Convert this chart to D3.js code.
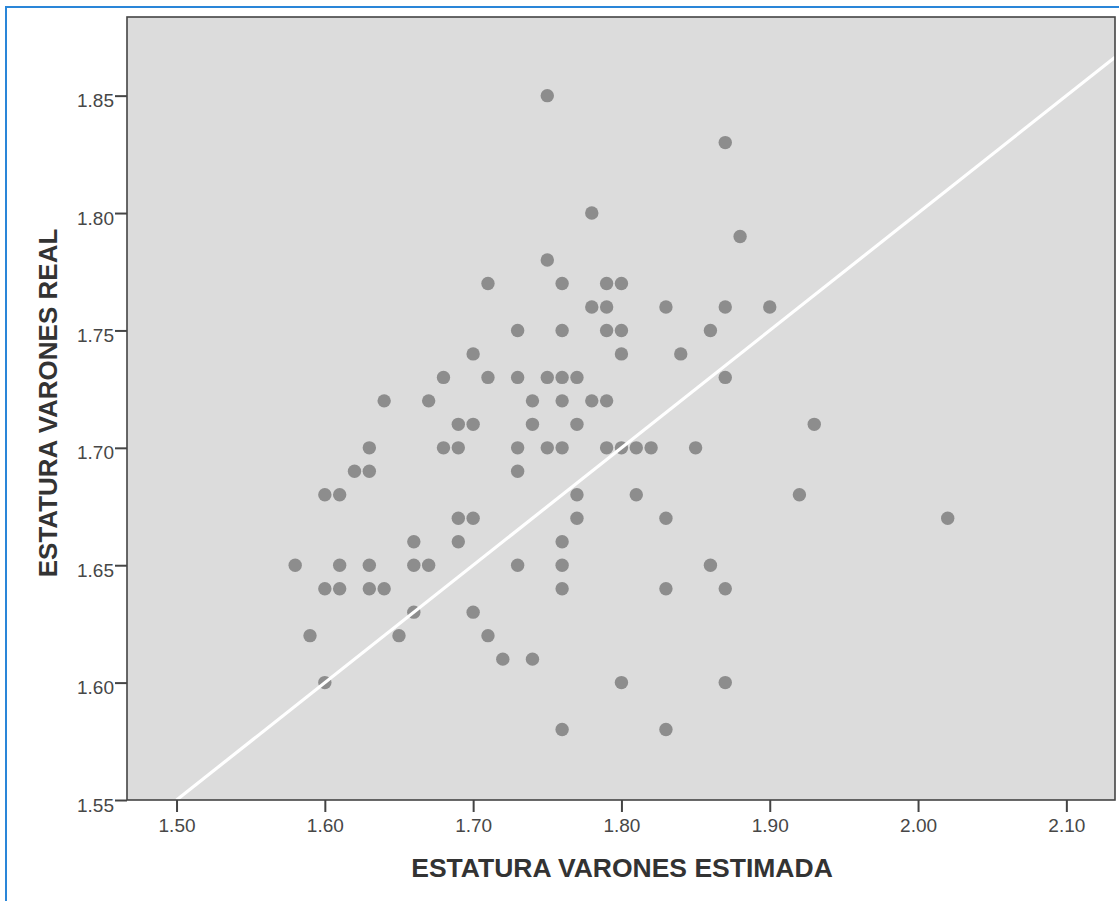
<!DOCTYPE html>
<html>
<head>
<meta charset="utf-8">
<script src="https://cdn.jsdelivr.net/npm/d3@7"></script>
<style>
  html, body { margin: 0; padding: 0; background: #ffffff; }
  svg { display: block; }
  text { font-family: "Liberation Sans", Arial, sans-serif; }
</style>
</head>
<body>
<svg id="chart" width="1119" height="901"></svg>
<script>
// Estimated height (x) and measured height (y), in metres, one entry per subject
const estimada = [
  1.75,
  1.87,
  1.78,
  1.88,
  1.75,
  1.71, 1.76, 1.79, 1.80,
  1.78, 1.79, 1.83, 1.87, 1.90,
  1.73, 1.76, 1.79, 1.80, 1.86,
  1.70, 1.80, 1.84,
  1.68, 1.71, 1.73, 1.75, 1.76, 1.77, 1.87,
  1.64, 1.67, 1.74, 1.76, 1.78, 1.79,
  1.69, 1.70, 1.74, 1.77, 1.93,
  1.63, 1.68, 1.69, 1.73, 1.75, 1.76, 1.79, 1.80, 1.81, 1.82, 1.85,
  1.62, 1.63, 1.73,
  1.60, 1.61, 1.77, 1.81, 1.92,
  1.69, 1.70, 1.77, 1.83, 2.02,
  1.66, 1.69, 1.76,
  1.58, 1.61, 1.63, 1.66, 1.67, 1.73, 1.76, 1.86,
  1.60, 1.61, 1.63, 1.64, 1.76, 1.83, 1.87,
  1.66, 1.70,
  1.59, 1.65, 1.71,
  1.72, 1.74,
  1.60, 1.80, 1.87,
  1.76, 1.83
];
const real = [
  1.85,
  1.83,
  1.80,
  1.79,
  1.78,
  1.77, 1.77, 1.77, 1.77,
  1.76, 1.76, 1.76, 1.76, 1.76,
  1.75, 1.75, 1.75, 1.75, 1.75,
  1.74, 1.74, 1.74,
  1.73, 1.73, 1.73, 1.73, 1.73, 1.73, 1.73,
  1.72, 1.72, 1.72, 1.72, 1.72, 1.72,
  1.71, 1.71, 1.71, 1.71, 1.71,
  1.70, 1.70, 1.70, 1.70, 1.70, 1.70, 1.70, 1.70, 1.70, 1.70, 1.70,
  1.69, 1.69, 1.69,
  1.68, 1.68, 1.68, 1.68, 1.68,
  1.67, 1.67, 1.67, 1.67, 1.67,
  1.66, 1.66, 1.66,
  1.65, 1.65, 1.65, 1.65, 1.65, 1.65, 1.65, 1.65,
  1.64, 1.64, 1.64, 1.64, 1.64, 1.64, 1.64,
  1.63, 1.63,
  1.62, 1.62, 1.62,
  1.61, 1.61,
  1.60, 1.60, 1.60,
  1.58, 1.58
];

// Axis ticks
const xTicks = [1.50, 1.60, 1.70, 1.80, 1.90, 2.00, 2.10];
const yTicks = [1.55, 1.60, 1.65, 1.70, 1.75, 1.80, 1.85];

// Fit line: real = fitIntercept + fitSlope * estimada
const fitIntercept = 0.80;
const fitSlope = 0.50;

const xTitle = "ESTATURA VARONES ESTIMADA";
const yTitle = "ESTATURA VARONES REAL";

const svg = d3.select("#chart");

// Outer blue frame
svg.append("rect")
  .attr("x", 6).attr("y", 7)
  .attr("width", 1140).attr("height", 920)
  .attr("fill", "none")
  .attr("stroke", "#2a86d8")
  .attr("stroke-width", 2);

const plot = { left: 127, top: 17, right: 1115, bottom: 800 };

const x = d3.scaleLinear().domain([1.4666, 2.1328]).range([plot.left, plot.right]);
const y = d3.scaleLinear().domain([1.55, 1.8835]).range([plot.bottom, plot.top]);

// Plot background
svg.append("rect")
  .attr("x", plot.left).attr("y", plot.top)
  .attr("width", plot.right - plot.left).attr("height", plot.bottom - plot.top)
  .attr("fill", "#dcdcdc");

svg.append("clipPath").attr("id", "plot-clip")
  .append("rect")
  .attr("x", plot.left).attr("y", plot.top)
  .attr("width", plot.right - plot.left).attr("height", plot.bottom - plot.top);

// Points
const pts = estimada.map((e, i) => ({ e, r: real[i] }));
svg.append("g")
  .attr("clip-path", "url(#plot-clip)")
  .selectAll("circle")
  .data(pts)
  .join("circle")
  .attr("cx", d => x(d.e))
  .attr("cy", d => y(d.r))
  .attr("r", 6.7)
  .attr("fill", "#8d8d8d");

// Fit line
const fitX0 = (y.domain()[0] - fitIntercept) / fitSlope;
const fitX1 = x.domain()[1];
svg.append("line")
  .attr("clip-path", "url(#plot-clip)")
  .attr("x1", x(fitX0)).attr("y1", y(fitIntercept + fitSlope * fitX0))
  .attr("x2", x(fitX1)).attr("y2", y(fitIntercept + fitSlope * fitX1))
  .attr("stroke", "#ffffff")
  .attr("stroke-width", 3.2);

// Plot frame
svg.append("rect")
  .attr("x", plot.left).attr("y", plot.top)
  .attr("width", plot.right - plot.left).attr("height", plot.bottom - plot.top)
  .attr("fill", "none")
  .attr("stroke", "#444444")
  .attr("stroke-width", 1.6);

// X axis
const xAxis = svg.append("g")
  .attr("transform", `translate(0,${plot.bottom})`)
  .call(d3.axisBottom(x).tickValues(xTicks).tickFormat(d3.format(".2f"))
    .tickSize(12).tickPadding(7));
xAxis.select(".domain").remove();
xAxis.selectAll(".tick line").attr("stroke", "#444444").attr("stroke-width", 2);
xAxis.selectAll(".tick text")
  .attr("fill", "#474747")
  .style("font-size", "19px")
  .style("font-family", "'Liberation Sans', Arial, sans-serif");

// Y axis
const yAxis = svg.append("g")
  .attr("transform", `translate(${plot.left},0)`)
  .call(d3.axisLeft(y).tickValues(yTicks).tickFormat(d3.format(".2f"))
    .tickSize(12).tickPadding(1));
yAxis.select(".domain").remove();
yAxis.selectAll(".tick line").attr("stroke", "#444444").attr("stroke-width", 2);
yAxis.selectAll(".tick text")
  .attr("fill", "#474747")
  .attr("dy", "0.58em")
  .style("font-size", "19px")
  .style("font-family", "'Liberation Sans', Arial, sans-serif");

// Axis titles
svg.append("text")
  .attr("x", (plot.left + plot.right) / 2 + 1)
  .attr("y", 877)
  .attr("text-anchor", "middle")
  .attr("fill", "#333333")
  .style("font-size", "26.5px")
  .style("font-weight", "bold")
  .text(xTitle);

svg.append("text")
  .attr("transform", `translate(57,403) rotate(-90)`)
  .attr("text-anchor", "middle")
  .attr("fill", "#333333")
  .style("font-size", "26px")
  .style("font-weight", "bold")
  .text(yTitle);
</script>
</body>
</html>
